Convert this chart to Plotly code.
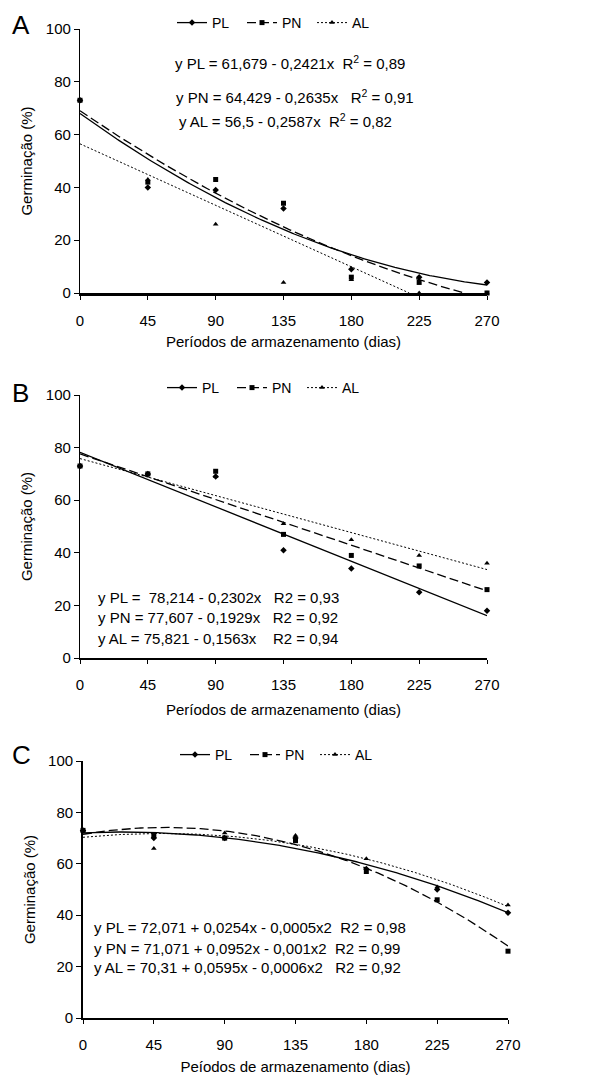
import numpy as np
import plotly.graph_objects as go

# ---------------- data ----------------
days = [0, 45, 90, 135, 180, 225, 270]
y_ticks = [0, 20, 40, 60, 80, 100]
series_names = ["PL", "PN", "AL"]

# Panel A observed germination (%)
a_pl = [73, 40, 39, 32, 9, 6, 4]
a_pn = [73, 42, 43, 34, 6, 4, 0]
a_al = [73, 43, 26, 4, 5, 0, 0]
# Panel B
b_pl = [73, 70, 69, 41, 34, 25, 18]
b_pn = [73, 70, 71, 47, 39, 35, 26]
b_al = [73, 70, 69, 51, 45, 39, 36]
# Panel C
c_pl = [73, 70, 70, 70, 58, 50, 41]
c_pn = [73, 71, 70, 69, 57, 46, 26]
c_al = [73, 66, 72, 71, 62, 51, 44]

# Trend line coefficients [c0, c1, c2] as drawn, and x end of each line
a_fit = {"PL": [68.0, -0.411, 0.000631], "PN": [69.0, -0.388, 0.000461], "AL": [56.5, -0.2587, 0.0]}
a_end = {"PL": 270, "PN": 254, "AL": 218.4}
b_fit = {"PL": [78.214, -0.2302, 0.0], "PN": [77.607, -0.1929, 0.0], "AL": [75.821, -0.1563, 0.0]}
b_end = {"PL": 270, "PN": 270, "AL": 270}
c_fit = {"PL": [72.071, 0.0254, -0.00052], "PN": [71.5, 0.1019, -0.000974], "AL": [70.31, 0.0595, -0.00059]}
c_end = {"PL": 270, "PN": 270, "AL": 270}

a_eq = ["y PL = 61,679 - 0,2421x  R<sup>2</sup> = 0,89",
        "y PN = 64,429 - 0,2635x   R<sup>2</sup> = 0,91",
        "y AL = 56,5 - 0,2587x  R<sup>2</sup> = 0,82"]
b_eq = ["y PL =  78,214 - 0,2302x   R2 = 0,93",
        "y PN = 77,607 - 0,1929x   R2 = 0,92",
        "y AL = 75,821 - 0,1563x    R2 = 0,94"]
c_eq = ["y PL = 72,071 + 0,0254x - 0,0005x2  R2 = 0,98",
        "y PN = 71,071 + 0,0952x - 0,001x2  R2 = 0,99",
        "y AL = 70,31 + 0,0595x - 0,0006x2   R2 = 0,92"]

x_titles = ["Períodos de armazenamento (dias)", "Períodos de armazenamento (dias)",
            "Peíodos de armazenamento (dias)"]
y_title = "Germinação (%)"
panel_letters = ["A", "B", "C"]

# ---------------- layout helpers ----------------
OFF = 8                      # page body margin of the browser
W, H = 614 - OFF, 1079 - OFF
FONT = "Liberation Sans, Arial, sans-serif"

def px_x(p):
    return (p - OFF) / W

def px_y(p):
    return 1 - (p - OFF) / H

styles = {
    "PL": dict(dash="solid", symbol="diamond", msize=5, width=1.3),
    "PN": dict(dash="9px,4px", symbol="square", msize=5, width=1.3),
    "AL": dict(dash="2px,2px", symbol="triangle-up", msize=5, width=1.0),
}

panels = [
    dict(obs=[a_pl, a_pn, a_al], fit=a_fit, end=a_end, xd=(80, 487), yd=(29, 293), xlw=2.5, ylw=1.3,
         legend=(172, 23), letter=(10, None), xstand=9),
    dict(obs=[b_pl, b_pn, b_al], fit=b_fit, end=b_end, xd=(80, 487), yd=(395, 658), xlw=1.6, ylw=1.3,
         legend=(162, 388), letter=(10, 393), xstand=13),
    dict(obs=[c_pl, c_pn, c_al], fit=c_fit, end=c_end, xd=(83, 508), yd=(761, 1018), xlw=1.6, ylw=1.8,
         legend=(175, 755), letter=(10, 755), xstand=10),
]

fig = go.Figure()
layout = dict(width=W, height=H, margin=dict(l=0, r=0, t=0, b=0, autoexpand=False),
              paper_bgcolor="white", plot_bgcolor="white",
              font=dict(family=FONT, size=15, color="black"), showlegend=True)
annotations = []

for i, p in enumerate(panels):
    n = "" if i == 0 else str(i + 1)
    xa, ya = "x" + n, "y" + n
    leg = "legend" + n
    for name, obs in zip(series_names, p["obs"]):
        st = styles[name]
        coef = p["fit"][name]
        xs = np.linspace(0, p["end"][name], 200)
        ys = coef[0] + coef[1] * xs + coef[2] * xs ** 2
        fig.add_trace(go.Scatter(x=xs, y=ys, mode="lines", xaxis=xa, yaxis=ya,
                                 line=dict(color="black", width=st["width"], dash=st["dash"]),
                                 showlegend=False, hoverinfo="skip", cliponaxis=False))
        fig.add_trace(go.Scatter(x=days, y=obs, mode="markers", xaxis=xa, yaxis=ya,
                                 marker=dict(color="black", symbol=st["symbol"], size=st["msize"]),
                                 showlegend=False, cliponaxis=False))
        fig.add_trace(go.Scatter(x=[None], y=[None], mode="lines+markers", name=name,
                                 xaxis=xa, yaxis=ya, legend=leg,
                                 line=dict(color="black", width=st["width"], dash=st["dash"]),
                                 marker=dict(color="black", symbol=st["symbol"], size=st["msize"])))
    x0, x1 = p["xd"]
    y0, y1 = p["yd"]
    layout["xaxis" + n] = dict(domain=[px_x(x0), px_x(x1)], anchor=ya, range=[0, 270], automargin=False,
                               tickvals=days, ticks="outside", ticklen=4, tickcolor="black",
                               ticklabelstandoff=8,
                               showline=True, linecolor="black", linewidth=p["xlw"],
                               showgrid=False, zeroline=False,
                               tickfont=dict(size=15),
                               title=dict(text=x_titles[i], font=dict(size=15), standoff=p["xstand"]))
    layout["yaxis" + n] = dict(domain=[px_y(y1), px_y(y0)], anchor=xa, range=[0, 100], automargin=False,
                               tickvals=y_ticks, ticks="outside", ticklen=5, tickcolor="black",
                               showline=True, linecolor="black", linewidth=p["ylw"],
                               showgrid=False, zeroline=False,
                               tickfont=dict(size=15), title=dict(text=y_title, font=dict(size=15), standoff=9))
    lx, ly = p["legend"]
    layout[leg] = dict(orientation="h", x=px_x(lx), y=px_y(ly), xanchor="left", yanchor="middle",
                       font=dict(size=14), itemwidth=30, bgcolor="rgba(0,0,0,0)",
                       entrywidth=25, entrywidthmode="pixels", tracegroupgap=0)
    lxl, lyl = p["letter"]
    if lyl is None:
        annotations.append(dict(text=panel_letters[i], x=px_x(lxl), y=1.0, xref="paper", yref="paper",
                                xanchor="left", yanchor="top", showarrow=False, font=dict(size=26)))
    else:
        annotations.append(dict(text=panel_letters[i], x=px_x(lxl), y=px_y(lyl), xref="paper", yref="paper",
                                xanchor="left", yanchor="middle", showarrow=False, font=dict(size=26)))

def eq_ann(text, x, y, anchor):
    return dict(text=text.replace("  ", "\u00a0\u00a0"), x=px_x(x), y=px_y(y), xref="paper", yref="paper",
                xanchor=anchor, yanchor="middle", showarrow=False, font=dict(size=15))

for t, (x, y) in zip(a_eq, [(290, 62), (295, 96), (285, 121)]):
    annotations.append(eq_ann(t, x, y, "center"))
for t, y in zip(b_eq, [597, 617, 638]):
    annotations.append(eq_ann(t, 96, y, "left"))
for t, y in zip(c_eq, [928, 948, 967]):
    annotations.append(eq_ann(t, 92, y, "left"))

layout["annotations"] = annotations
fig.update_layout(**layout)
fig.write_html("out.html")
